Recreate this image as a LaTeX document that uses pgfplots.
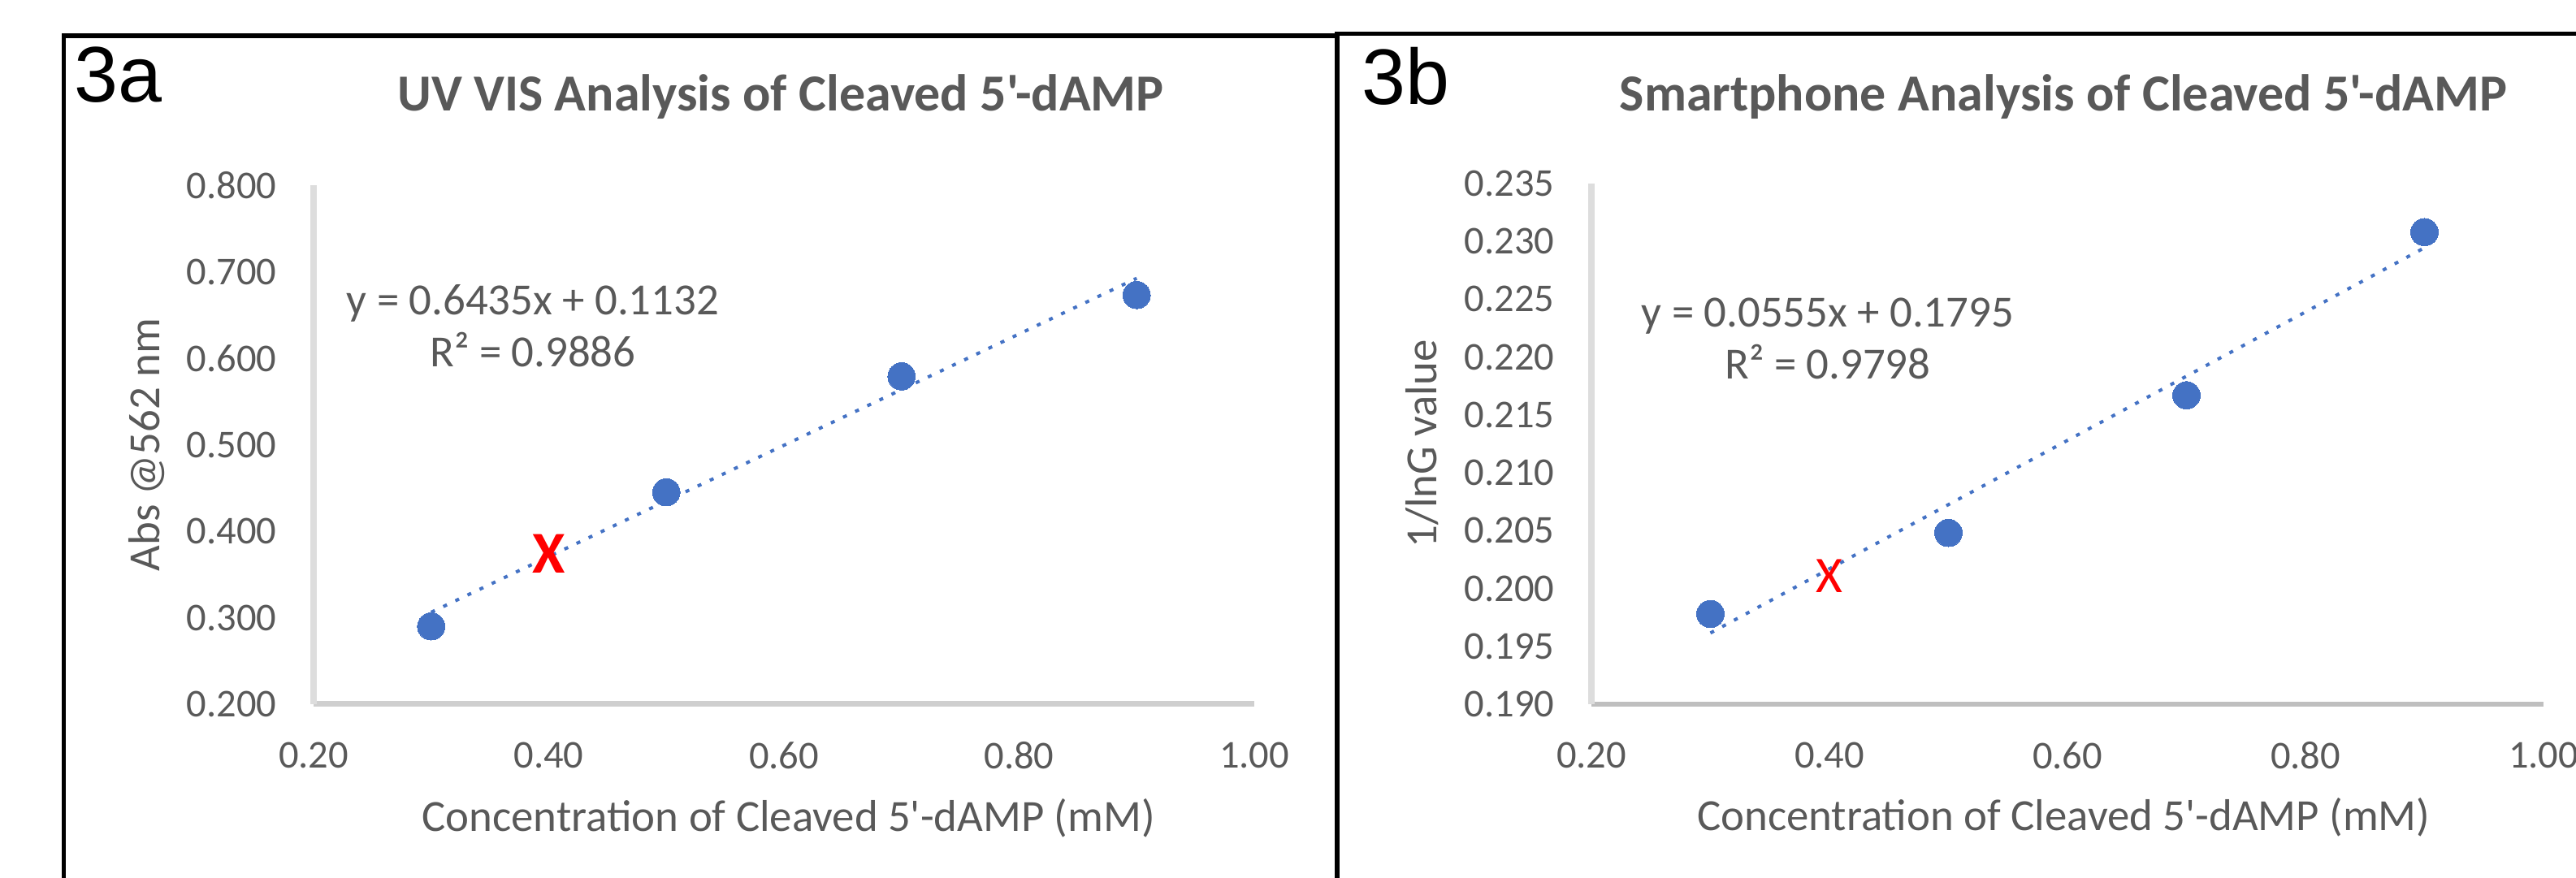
\documentclass[border=0pt]{standalone}
\usepackage{fontspec}
\setmainfont{Carlito}[Ligatures=TeXOff]
\newfontfamily\arialf{Liberation Sans}
\usepackage{pgfplots}
\pgfplotsset{compat=1.18}
\definecolor{ptblue}{HTML}{4472C4}
\definecolor{txtgray}{HTML}{595959}
\definecolor{yaxgray}{HTML}{DDDDDD}
\newcommand{\tickfont}{\fontsize{13.8pt}{16pt}\selectfont}
\newcommand{\labfont}{\fontsize{15.6pt}{18.2pt}\selectfont}
\newcommand{\titfont}{\fontsize{18.2pt}{21pt}\selectfont\bfseries}
\pgfplotsset{
  myax/.style={
    scale only axis,
    axis x line*=bottom, axis y line*=left,
    y axis line style={-, draw=yaxgray, line width=0.08cm},
    tick style={draw=none},
    major tick length=0pt,
    tick label style={font=\tickfont, text=txtgray, inner sep=0pt},
    yticklabel style={anchor=east, xshift=-0.45cm},
    xticklabel style={anchor=north, yshift=-0.46cm},
    xmin=0.2, xmax=1.0,
    xtick={0.2,0.4,0.6,0.8,1.0},
    xticklabels={0.20,0.40,0.60,0.80,1.00},
    label style={font=\labfont, text=txtgray, inner sep=0pt},
    title style={font=\titfont, text=txtgray, inner sep=0pt},
    clip=false,
  },
  pts/.style={ptblue, only marks, mark=*, mark size=4.8pt, mark options={fill=ptblue, draw=ptblue, line width=0pt}},
  trend/.style={no marks, draw=ptblue, line width=0.04cm, dash pattern=on 0.05cm off 0.115cm},
}
\begin{document}
\begin{tikzpicture}
\useasboundingbox (0,0) rectangle (31.71,10.81);
% panel frames
\draw[black, line width=0.055cm] (0.785,0) -- (0.785,10.37) -- (16.46,10.37);
\draw[black, line width=0.055cm] (16.46,0) -- (16.46,10.395) -- (31.71,10.395);
\node[anchor=base west, inner sep=0pt, font=\arialf\fontsize{27.6pt}{30pt}\selectfont] at (0.91,9.55) {3a};
\node[anchor=base west, inner sep=0pt, font=\arialf\fontsize{27.6pt}{30pt}\selectfont] at (16.76,9.52) {3b};

% ---------- 3a ----------
\begin{axis}[myax,
  at={(3.86cm,2.14cm)}, anchor=south west,
  width=11.58cm, height=6.39cm,
  x axis line style={-, draw=black!19, line width=0.07cm},
  ymin=0.2, ymax=0.8,
  ytick={0.2,0.3,0.4,0.5,0.6,0.7,0.8},
  yticklabels={0.200,0.300,0.400,0.500,0.600,0.700,0.800},
  title={UV VIS Analysis of Cleaved 5'-dAMP},
  title style={at={(axis description cs:0.4965,1.1095)}, anchor=base},
  xlabel={Concentration of Cleaved 5'-dAMP (mM)},
  xlabel style={at={(axis description cs:0.505,-0.2457)}, anchor=base},
  ylabel={Abs @562 nm},
  ylabel style={at={(axis description cs:-0.177,0.5)}, anchor=center},
]
\addplot[trend] coordinates {(0.3,0.30625) (0.9,0.69235)};
\addplot[pts] coordinates {(0.3,0.290) (0.5,0.445) (0.7,0.579) (0.9,0.673)};
\addplot[red, only marks, mark=text,
  text mark={\textcolor{red}{\fontsize{20.8pt}{22pt}\selectfont\bfseries X}}]
  coordinates {(0.40,0.374)};
\node[align=center, font=\labfont, text=txtgray, inner sep=0pt] at (axis cs:0.3865,0.6376)
  {y = 0.6435x + 0.1132\\R² = 0.9886};
\end{axis}

% ---------- 3b ----------
\begin{axis}[myax,
  at={(19.59cm,2.14cm)}, anchor=south west,
  width=11.72cm, height=6.41cm,
  x axis line style={-, draw=black!25, line width=0.06cm},
  ymin=0.19, ymax=0.235,
  ytick={0.190,0.195,0.200,0.205,0.210,0.215,0.220,0.225,0.230,0.235},
  yticklabels={0.190,0.195,0.200,0.205,0.210,0.215,0.220,0.225,0.230,0.235},
  title={Smartphone Analysis of Cleaved 5'-dAMP},
  title style={at={(axis description cs:0.4957,1.106)}, anchor=base},
  xlabel={Concentration of Cleaved 5'-dAMP (mM)},
  xlabel style={at={(axis description cs:0.496,-0.243)}, anchor=base},
  ylabel={1/lnG value},
  ylabel style={at={(axis description cs:-0.178,0.5)}, anchor=center},
]
\addplot[trend] coordinates {(0.3,0.19615) (0.9,0.22945)};
\addplot[pts] coordinates {(0.3,0.1978) (0.5,0.2048) (0.7,0.2167) (0.9,0.2308)};
\addplot[red, only marks, mark=text,
  text mark={\textcolor{red}{\fontsize{18pt}{20pt}\selectfont X}}]
  coordinates {(0.40,0.2011)};
\node[align=center, font=\labfont, text=txtgray, inner sep=0pt] at (axis cs:0.3986,0.2216)
  {y = 0.0555x + 0.1795\\R² = 0.9798};
\end{axis}
\end{tikzpicture}
\end{document}
